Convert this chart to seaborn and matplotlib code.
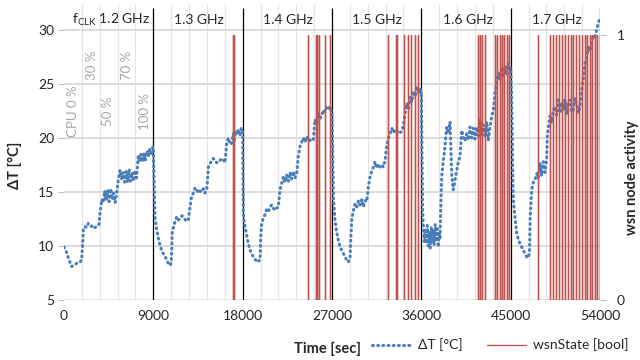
import numpy as np
import pandas as pd
import matplotlib
matplotlib.use("Agg")
import matplotlib.pyplot as plt
import seaborn as sns

sns.set_style("white")
plt.rcParams['font.family'] = ['Lato', 'DejaVu Sans']
plt.rcParams['mathtext.fontset'] = 'custom'
plt.rcParams['mathtext.rm'] = 'Lato'

# --- temperature rise dT [°C] over time [s], per clock step
t_12 = [0, 150, 270, 400, 550, 775, 950, 1110, 1300, 1500, 1610, 1780, 1880, 1945, 2100, 2285, 2450, 2620, 2780,
        2920, 3100, 3295, 3450, 3525, 3625, 3800, 3950, 4100, 4250, 4400, 4550, 4700, 4850, 5000, 5150, 5300, 5470,
        5640, 5800, 5950, 6100, 6250, 6400, 6550, 6700, 6850, 7000, 7150, 7300, 7485, 7600, 7750, 7900, 8050, 8200,
        8350, 8500, 8650, 8800, 8950]
v_12 = [9.9, 9.6, 9.4, 9.0, 8.6, 8.1, 8.2, 8.3, 8.4, 8.5, 8.5, 8.7, 10.2, 11.5, 11.8, 11.7, 12.1, 12.0, 11.8,
        11.9, 11.7, 11.8, 11.9, 12.0, 13.0, 14.3, 14.0, 15.1, 14.2, 15.2, 14.1, 15.3, 14.3, 14.9, 14.0, 14.8, 16.1,
        17.0, 16.2, 16.8, 15.9, 16.9, 15.9, 17.1, 16.0, 16.8, 16.0, 17.0, 16.3, 18.4, 17.8, 18.5, 17.8, 18.6, 17.9,
        18.8, 18.3, 19.0, 18.4, 19.2]

t_13 = [9000, 9050, 9100, 9170, 9250, 9400, 9600, 9800, 10000, 10200, 10400, 10550, 10700, 10800, 10850,
        10900, 11100, 11355, 11550, 11690, 11900, 12090, 12300, 12525, 12695, 12850, 13030, 13200, 13370, 13550,
        13700, 13870, 14035, 14200, 14375, 14460, 14540, 14700, 14870, 15040, 15200, 15385, 15550, 15715, 15880,
        16050, 16220, 16390, 16555, 16720, 16895, 17050, 17130, 17250, 17400, 17550, 17730, 17850, 17985]
v_13 = [18.8, 17.0, 15.0, 12.7, 12.0, 11.2, 10.3, 9.7, 9.3, 9.0, 8.6, 8.3, 8.2, 8.5, 9.5,
        11.2, 12.0, 12.7, 12.4, 12.6, 12.8, 12.6, 12.3, 12.4, 13.6, 14.5, 14.9, 15.4, 15.2, 14.9,
        15.1, 15.0, 15.3, 14.9, 15.2, 16.1, 17.3, 17.6, 17.9, 18.1, 17.9, 17.7, 17.9, 17.9, 18.1,
        18.0, 17.7, 19.5, 20.0, 19.4, 19.5, 20.4, 19.6, 20.6, 20.3, 20.8, 20.2, 20.9, 20.6]

t_14 = [18000, 18030, 18065, 18150, 18235, 18400, 18570, 18740, 18900, 19070, 19250, 19415, 19600, 19750,
        19820, 19920, 20080, 20250, 20420, 20590, 20755, 20920, 21090, 21260, 21420, 21590, 21760, 21930, 22100,
        22270, 22435, 22600, 22770, 22940, 23100, 23270, 23445, 23605, 23775, 23940, 24110, 24280, 24450, 24620,
        24785, 24950, 25115, 25290, 25450, 25620, 25790, 25960, 26130, 26295, 26460, 26630, 26800, 26970]
v_14 = [20.4, 16.5, 13.0, 12.3, 11.8, 11.0, 10.2, 9.6, 9.3, 9.0, 8.8, 8.5, 8.6, 8.7,
        10.9, 12.1, 12.6, 12.9, 13.4, 13.2, 13.6, 13.8, 13.5, 13.3, 13.5, 13.6, 15.2, 15.8, 16.4,
        15.9, 16.6, 16.0, 16.8, 16.2, 16.9, 16.3, 16.7, 18.3, 19.2, 19.6, 20.0, 19.6, 20.1, 19.7,
        19.8, 19.7, 19.8, 21.7, 21.3, 22.3, 21.8, 22.0, 22.6, 22.4, 22.8, 22.6, 22.9, 22.4]

t_15 = [27000, 27080, 27150, 27305, 27480, 27650, 27810, 27980, 28150, 28300, 28480, 28650, 28820,
        28890, 28990, 29160, 29330, 29490, 29660, 29830, 30000, 30165, 30330, 30500, 30665, 30835, 31000, 31170,
        31340, 31500, 31675, 31840, 32010, 32180, 32350, 32515, 32680, 32850, 33020, 33190, 33360, 33525, 33700,
        33860, 34030, 34200, 34370, 34540, 34700, 34875, 35040, 35210, 35380, 35545, 35710, 35880, 35950]
v_15 = [22.3, 18.0, 14.3, 12.4, 11.2, 10.5, 9.9, 9.6, 9.3, 9.0, 8.7, 8.5, 8.9,
        10.6, 12.4, 13.3, 13.9, 13.6, 14.2, 13.8, 14.3, 13.6, 14.2, 14.1, 15.5, 16.4, 16.9, 17.3,
        17.8, 17.2, 17.6, 17.3, 17.5, 17.3, 18.0, 19.2, 20.0, 20.4, 20.9, 20.5, 20.8, 20.6, 20.7,
        20.5, 20.6, 21.2, 22.3, 23.2, 22.7, 23.8, 23.3, 24.3, 23.8, 24.8, 24.2, 24.6, 24.1]

t_16 = [36000, 36070, 36130, 36200, 36300, 36400, 36500, 36600, 36700, 36800, 36900, 37000, 37100, 37200,
        37300, 37400, 37500, 37600, 37700, 37800, 37882, 37952, 38053, 38200, 38386, 38470, 38557, 38720, 38890,
        38980, 39061, 39140, 39222, 39393, 39565, 39730, 39897, 40068, 40229, 40400, 40572, 40740, 40905, 41070,
        41237, 41400, 41580, 41750, 41912, 42080, 42245, 42420, 42587, 42750, 42920, 43091, 43252, 43423, 43594,
        43760, 43927, 44090, 44260, 44430, 44602, 44770, 44935]
v_16 = [24.3, 18.0, 13.3, 11.8, 10.4, 11.6, 10.2, 11.9, 10.0, 11.3, 9.8, 11.7, 10.3, 11.5,
        10.1, 12.0, 10.4, 11.6, 9.9, 11.2, 10.6, 13.3, 16.4, 17.8, 19.2, 20.3, 21.0, 20.4, 21.5,
        19.0, 16.7, 15.8, 15.2, 16.1, 17.0, 17.8, 18.3, 20.7, 20.1, 19.7, 20.4, 19.8, 21.0, 20.0,
        20.9, 19.9, 21.0, 20.2, 21.7, 20.3, 21.2, 20.1, 21.5, 19.8, 21.0, 22.0, 22.6, 24.1, 25.2,
        26.0, 25.4, 26.5, 25.6, 26.7, 25.8, 26.9, 26.4]

t_17 = [45000, 45103, 45165, 45200, 45270, 45440, 45605, 45780, 45940, 46110, 46280, 46445, 46615, 46780,
        46900, 46970, 47120, 47290, 47450, 47620, 47790, 47955, 48120, 48290, 48460, 48625, 48690, 48800, 48960,
        49130, 49300, 49465, 49630, 49800, 49970, 50140, 50305, 50470, 50640, 50810, 50975, 51140, 51310, 51480,
        51655, 51820, 51985, 52155, 52320, 52490, 52660, 52825, 52990, 53160, 53330, 53495, 53660, 53830, 54000]
v_17 = [26.5, 23.5, 20.4, 17.3, 14.3, 12.6, 11.2, 10.6, 10.2, 9.9, 9.6, 9.3, 9.0, 8.9,
        9.5, 12.7, 15.2, 15.9, 16.1, 16.7, 16.3, 17.7, 16.5, 17.8, 16.8, 18.0, 20.1, 21.0, 22.0,
        21.4, 22.6, 22.9, 22.1, 23.5, 22.3, 23.3, 22.6, 23.6, 22.2, 23.4, 23.5, 22.4, 22.6, 23.7,
        23.2, 22.3, 22.9, 24.4, 25.6, 26.9, 27.5, 28.5, 28.0, 28.8, 29.5, 29.4, 30.0, 30.6, 31.2]

# --- wsn node activity pulses [s]
wsn_pulses = [17060, 17160,
              24615, 25360, 25490, 25695, 26265, 26800,
              32675, 33400, 33500, 34255, 34630, 34990, 35395, 35700,
              41710, 41940, 42145, 42385, 43425, 43660, 43900, 44130, 44365, 44600, 44835,
              47785, 48965, 49300, 49570, 49840, 50175, 50505, 50780, 51050, 51280, 51555, 51855,
              52160, 52460, 52690, 52965, 53225, 53500, 53730, 54000]

freq_labels = [r'f$_{\mathrm{CLK}}$ 1.2 GHz', '1.3 GHz', '1.4 GHz', '1.5 GHz', '1.6 GHz', '1.7 GHz']
freq_label_t = [800, 11080, 20050, 29020, 38180, 47150]
cpu_labels = ['CPU 0 %', '30 %', '50 %', '70 %', '100 %']
cpu_label_t = [940, 2790, 4465, 6315, 8160]
cpu_label_y = [22.45, 26.7, 22.45, 26.7, 22.45]
step_bounds = [9000, 18000, 27000, 36000, 45000, 54000]

temp_df = pd.DataFrame({
    'time': t_12 + t_13 + t_14 + t_15 + t_16 + t_17,
    'dT': v_12 + v_13 + v_14 + v_15 + v_16 + v_17,
})

# step line for the bool state: 0 -> 1 -> 0 at every pulse
sx, sy = [0], [0]
for p in wsn_pulses:
    sx += [p, p, p]
    sy += [0, 1, 0]
sx.append(54000)
sy.append(0)
wsn_df = pd.DataFrame({'time': sx, 'state': sy})

blue = '#4A7EBB'
red = '#C0504D'
grid_c = '#D9D9D9'

fig = plt.figure(figsize=(6.4, 3.6), dpi=100)
ax = fig.add_axes([0.1, 0.1667, 0.8375, 0.8194])

# grid
for gx in np.arange(1800, 54000, 1800):
    if gx % 9000:
        ax.axvline(gx, color='#E4E4E4', lw=0.9, zorder=0)
for gy in [10, 15, 20, 25, 30]:
    ax.axhline(gy, color=grid_c, lw=1.3, zorder=0)
ax.vlines(step_bounds, 5, 32.0, color='black', lw=0.9, zorder=1)

sns.lineplot(data=temp_df, x='time', y='dT', ax=ax, sort=False, estimator=None,
             color=blue, lw=2.2, linestyle=(0, (0.3, 1.4)), dash_capstyle='round', zorder=3)
ax.set_xlim(0, 54000)
ax.set_ylim(5, 32.3)
ax.set_xticks([0, 9000, 18000, 27000, 36000, 45000, 54000])
ax.set_yticks([5, 10, 15, 20, 25, 30])
ax.tick_params(axis='both', labelsize=10, length=4, color='#BFBFBF', width=0.8, pad=3)
ax.set_xlabel('')
ax.set_ylabel('')
for s in ax.spines.values():
    s.set_visible(False)

ax2 = ax.twinx()
sns.lineplot(data=wsn_df, x='time', y='state', ax=ax2, sort=False, estimator=None,
             color=red, lw=0.95, zorder=4)
ax2.set_ylim(0, 1.113)
ax2.set_yticks([0, 1])
ax2.tick_params(axis='y', labelsize=10, length=4, color='#BFBFBF', width=0.8, pad=8)
ax2.set_ylabel('')
for s in ax2.spines.values():
    s.set_visible(False)

# annotations
for lab, tx in zip(freq_labels, freq_label_t):
    ax.text(tx, 30.9, lab, fontsize=10, ha='left', va='center', color='#262626')
for lab, tx, ty in zip(cpu_labels, cpu_label_t, cpu_label_y):
    ax.text(tx, ty, lab, fontsize=9.5, rotation=90, ha='center', va='center', color='#A6A6A6')

fig.text(15 / 640, 1 - 165 / 360, 'ΔT [°C]', rotation=90, ha='center', va='center',
         fontsize=10.5, fontweight='bold')
fig.text(632 / 640, 1 - 178 / 360, 'wsn node activity', rotation=90, ha='center', va='center',
         fontsize=10.5, fontweight='bold')
fig.text(327 / 640, 1 - 349 / 360, 'Time [sec]', ha='center', va='center',
         fontsize=10.5, fontweight='bold')

h1 = ax.get_lines()[-1]
h2 = ax2.get_lines()[-1]
fig.legend([h1, h2], ['ΔT [°C]', 'wsnState [bool]'], loc='center right', ncol=2,
           bbox_to_anchor=(0.995, 1 - 345 / 360), frameon=False, fontsize=10,
           handlelength=2.8, columnspacing=1.8, handletextpad=0.5, borderpad=0.1)

fig.savefig('out.png', dpi=100)
